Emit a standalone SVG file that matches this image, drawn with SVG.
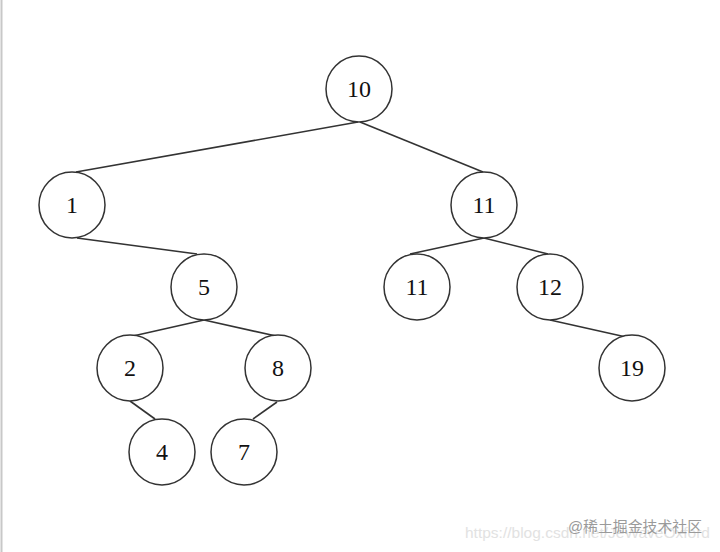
<svg xmlns="http://www.w3.org/2000/svg" width="720" height="552" viewBox="0 0 720 552">
<style>
.n circle{fill:#fff;stroke:#333;stroke-width:1.5}
.n text{font-family:"Liberation Serif","Times New Roman",serif;font-size:24px;fill:#111;text-anchor:middle}
#edges line{stroke:#333;stroke-width:1.6}
.wm{font-family:"Liberation Sans",Arial,"Noto Sans CJK SC",sans-serif}
</style>
<rect width="720" height="552" fill="#fff"/>
<line x1="1.5" y1="0" x2="1.5" y2="552" stroke="#c8c8c8" stroke-width="2"/>
<g id="edges">
<line x1="358" y1="122" x2="76" y2="172"/>
<line x1="360" y1="122" x2="483" y2="172"/>
<line x1="77" y1="238" x2="197" y2="254"/>
<line x1="204" y1="320" x2="133" y2="336"/>
<line x1="204" y1="320" x2="276" y2="336"/>
<line x1="130" y1="401" x2="155" y2="419"/>
<line x1="277" y1="402" x2="253" y2="419"/>
<line x1="484" y1="238" x2="410" y2="254"/>
<line x1="484" y1="238" x2="548" y2="254"/>
<line x1="550" y1="320" x2="626" y2="337"/>
</g>
<g id="n10" class="n"><circle cx="359" cy="89" r="33"/><text x="359" y="97">10</text></g>
<g id="n1" class="n"><circle cx="72" cy="205" r="33"/><text x="72" y="213">1</text></g>
<g id="n11a" class="n"><circle cx="484" cy="205" r="33"/><text x="484" y="213">11</text></g>
<g id="n5" class="n"><circle cx="204" cy="287" r="33"/><text x="204" y="295">5</text></g>
<g id="n11b" class="n"><circle cx="417" cy="287" r="33"/><text x="417" y="295">11</text></g>
<g id="n12" class="n"><circle cx="550" cy="287" r="33"/><text x="550" y="295">12</text></g>
<g id="n2" class="n"><circle cx="130" cy="368" r="33"/><text x="130" y="376">2</text></g>
<g id="n8" class="n"><circle cx="278" cy="368" r="33"/><text x="278" y="376">8</text></g>
<g id="n19" class="n"><circle cx="632" cy="368" r="33"/><text x="632" y="376">19</text></g>
<g id="n4" class="n"><circle cx="162" cy="452" r="33"/><text x="162" y="460">4</text></g>
<g id="n7" class="n"><circle cx="244" cy="452" r="33"/><text x="244" y="460">7</text></g>
<text class="wm" x="465" y="538" font-size="15" fill="#e2e2e2" textLength="245" lengthAdjust="spacingAndGlyphs">https://blog.csdn.net/JeWaveOxford</text>
<text class="wm" x="568" y="532" font-size="15" fill="#9a9a9a" textLength="134" lengthAdjust="spacingAndGlyphs">@稀土掘金技术社区</text>
</svg>
